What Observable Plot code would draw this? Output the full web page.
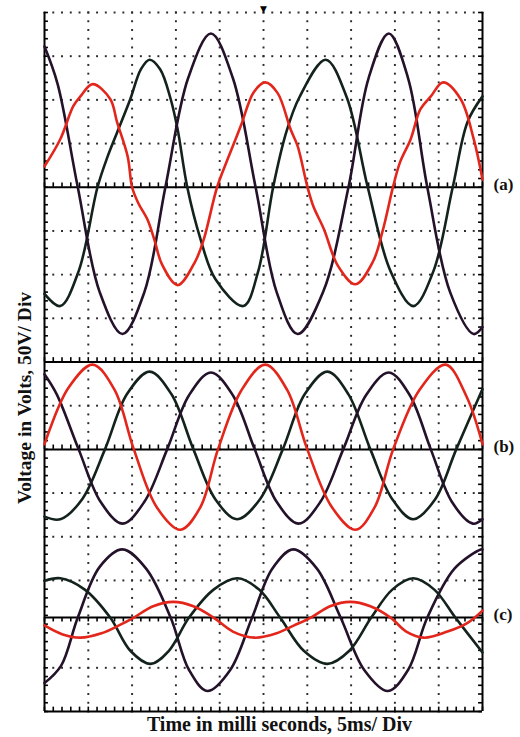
<!DOCTYPE html>
<html>
<head>
<meta charset="utf-8">
<script src="https://cdn.jsdelivr.net/npm/d3@7"></script>
<script src="https://cdn.jsdelivr.net/npm/@observablehq/plot@0.6"></script>
<style>
  html, body { margin: 0; padding: 0; background: #fff; }
  #chart svg { display: block; }
</style>
</head>
<body>
<div id="chart"></div>
<script>
// ---- Data: [time in ms, voltage in V] ----
// Panel (a)
const redA = [[0,24],[1.8,55],[3.3,93],[4.1,104],[5.5,118],[7.5,101],[8.3,74],[9.5,35],[10.0,0],[10.7,-18],[11.8,-38],[12.6,-62],[13.4,-88],[15.2,-112],[17.2,-85],[18.2,-59],[19.7,0],[20.9,32],[22.4,70],[23.9,109],[25.2,120],[26.6,108],[28.1,66],[28.9,47],[30.0,1],[30.7,-22],[31.9,-48],[33.5,-90],[35.5,-111],[37.5,-85],[38.6,-50],[39.8,1],[40.6,29],[41.8,55],[42.9,89],[44.1,104],[45.5,120],[47.5,101],[49.0,55],[50,9]];
const blkA1 = [[0,-122],[1.8,-136],[3.9,-96],[6.05,0],[7.2,35],[8.3,63],[9.8,101],[11.0,135],[12.0,146],[13.2,135],[14.4,101],[15.2,66],[16.3,0],[17.8,-59],[19.5,-105],[22.7,-136],[24.4,-96],[26.1,0],[27.6,63],[29.1,103],[32.1,146],[34.5,103],[36.9,0],[39.5,-96],[42.1,-136],[44.4,-96],[46.6,0],[48.3,75],[50,104]];
const blkA2 = [[0,161],[1.5,118],[3.8,0],[6.3,-120],[8.9,-168],[11.4,-120],[13.8,0],[16.4,125],[19.0,176],[21.5,125],[24.1,0],[26.5,-120],[28.9,-168],[31.8,-120],[34.7,0],[37.0,125],[39.3,176],[41.5,125],[43.7,0],[46.3,-120],[49.0,-168],[50,-160]];
// Panel (b)
const redB = [[0,6],[2.7,70],[5.5,97],[8.0,68],[10.2,0],[12.8,-66],[15.5,-92],[17.8,-66],[19.8,0],[22.5,68],[25.2,97],[27.7,68],[30.0,0],[32.8,-66],[35.5,-92],[37.7,-66],[39.8,0],[42.8,68],[45.8,97],[48.2,60],[50,6]];
const blkB1 = [[0,-77],[1.8,-80],[4.3,-57],[6.9,0],[9.4,63],[12.0,89],[14.5,63],[17.0,0],[19.5,-57],[22.0,-80],[24.6,-57],[27.2,0],[29.7,63],[32.3,89],[34.7,63],[37.2,0],[39.7,-57],[42.1,-80],[44.6,-57],[47.0,0],[50,69]];
const blkB2 = [[0,86],[1.4,63],[3.9,0],[6.4,-60],[8.9,-85],[11.4,-60],[14.0,0],[16.5,62],[19.0,88],[21.5,62],[24.0,0],[26.5,-60],[29.0,-85],[31.5,-60],[34.1,0],[36.7,62],[39.3,88],[41.7,62],[44.1,0],[46.5,-60],[48.9,-85],[50,-80]];
// Panel (c)
const redC = [[0,-9],[2,-19],[4.1,-23],[6.5,-18],[8.5,-9],[10.2,0],[12.4,13],[14.7,18],[17,13],[19.3,0],[21.5,-16],[24,-23],[26.5,-18],[28.5,-9],[30.4,0],[32.6,13],[34.9,18],[37.2,13],[39.5,0],[41.3,-16],[43.3,-23],[46,-16],[48.3,-6],[50,8]];
const blkC1 = [[0,-75],[1.9,-55],[3.8,0],[6.3,58],[8.9,78],[11.6,56],[14.4,0],[16.5,-60],[18.6,-84],[21.2,-60],[23.7,0],[26.0,56],[28.4,78],[31.1,56],[33.8,0],[36.5,-60],[39.2,-84],[41.5,-60],[43.7,0],[46.8,56],[49.8,78],[50,78]];
const blkC2 = [[0,42],[1.8,45],[4.6,32],[7.5,0],[9.8,-38],[12.1,-53],[14.2,-38],[16.5,0],[19.3,32],[22.0,45],[24.5,32],[26.9,0],[29.6,-38],[32.3,-53],[34.8,-38],[37.3,0],[39.7,32],[42.1,45],[44.5,32],[46.9,0],[50,-40]];

// Panel labels and their zero-line levels on the 16-division (50 V/div) screen
const panelLabels = ["(a)", "(b)", "(c)"];
const panelZeros = [600, 300, 107.5];
const separatorLevel = 400;

// ---- Layout / style ----
const serif = "'Liberation Serif', 'Times New Roman', serif";
const RED = "#e3261b", GREEN_BLK = "#13231c", PURPLE_BLK = "#24112a";
const screenTop = 800, timeEnd = 50;

const rows = (pts, off) => pts.map(([t, v]) => ({t, y: v + off}));

// graticule dots
const vDots = [];
for (let gx = 5; gx < timeEnd; gx += 5) for (const gy of d3.range(0, screenTop + 0.1, 10)) vDots.push({t: gx, y: gy});
const hDots = [];
for (let k = 1; k <= 16; k++) {
  if ([2, 6, 8, 12].includes(k)) continue;
  for (const gt of d3.range(0, timeEnd + 0.01, 1)) hDots.push({t: gt, y: k * 50});
}
const yTicks = d3.range(0, screenTop + 0.1, 10);
const tTicks = d3.range(0, timeEnd + 0.01, 1);

const traceLine = (pts, off, color) =>
  Plot.line(rows(pts, off), {x: "t", y: "y", stroke: color, strokeWidth: 2.6, curve: "catmull-rom", strokeLinejoin: "round"});

const marks = [
  // graticule
  Plot.dot(vDots, {x: "t", y: "y", symbol: "square", r: 1.1, fill: "#2a2a2a", stroke: null}),
  Plot.dot(hDots, {x: "t", y: "y", symbol: "square", r: 1.1, fill: "#2a2a2a", stroke: null}),
  // frame
  Plot.ruleX([0, timeEnd], {y1: 0, y2: screenTop, stroke: "#000", strokeWidth: 2}),
  Plot.ruleY([0], {x1: 0, x2: timeEnd, stroke: "#000", strokeWidth: 2}),
  Plot.ruleY(yTicks, {y: d => d, x1: 0, x2: 0.45, stroke: "#000", strokeWidth: 1.6}),
  Plot.ruleY(yTicks, {y: d => d, x1: timeEnd - 0.45, x2: timeEnd, stroke: "#000", strokeWidth: 1.6}),
  Plot.ruleX(tTicks, {x: d => d, y1: 0, y2: 5, stroke: "#000", strokeWidth: 1.6}),
  // zero lines + separator
  Plot.ruleY([...panelZeros, separatorLevel], {x1: 0, x2: timeEnd, stroke: "#000", strokeWidth: 2}),
  Plot.ruleX(tTicks, {x: d => d, y1: panelZeros[0], y2: panelZeros[0] + 5, stroke: "#000", strokeWidth: 1.6}),
  Plot.ruleX(tTicks, {x: d => d, y1: separatorLevel, y2: separatorLevel + 5, stroke: "#000", strokeWidth: 1.6}),
  Plot.ruleX(tTicks, {x: d => d, y1: panelZeros[1], y2: panelZeros[1] + 5, stroke: "#000", strokeWidth: 1.6}),
  Plot.ruleX(tTicks, {x: d => d, y1: panelZeros[2] - 5, y2: panelZeros[2], stroke: "#000", strokeWidth: 1.6}),
  // traces
  traceLine(blkA1, panelZeros[0], GREEN_BLK),
  traceLine(blkA2, panelZeros[0], PURPLE_BLK),
  traceLine(redA, panelZeros[0], RED),
  traceLine(blkB1, panelZeros[1], GREEN_BLK),
  traceLine(blkB2, panelZeros[1], PURPLE_BLK),
  traceLine(redB, panelZeros[1], RED),
  traceLine(blkC1, panelZeros[2], PURPLE_BLK),
  traceLine(blkC2, panelZeros[2], GREEN_BLK),
  traceLine(redC, panelZeros[2], RED),
  // trigger marker
  Plot.text([timeEnd / 2], {x: d => d, y: screenTop, text: () => "▼", dy: -3, fontSize: 9, fill: "#000", fontFamily: "DejaVu Sans"}),
  // panel labels
  Plot.text(panelLabels, {x: timeEnd, y: (d, i) => panelZeros[i], text: d => d, dx: 11, dy: -3, textAnchor: "start",
    fontFamily: serif, fontWeight: "bold", fontSize: 17, fill: "#111"}),
  // axis titles
  Plot.text(["Time in milli seconds, 5ms/ Div"], {frameAnchor: "bottom", text: d => d, dx: 16, dy: 13, textAnchor: "middle", lineAnchor: "middle",
    fontFamily: serif, fontWeight: "bold", fontSize: 20, fill: "#111"}),
  Plot.text(["Voltage in Volts, 50V/ Div"], {frameAnchor: "left", text: d => d, rotate: -90, dx: -20, dy: 36, textAnchor: "middle", lineAnchor: "middle",
    fontFamily: serif, fontWeight: "bold", fontSize: 19.5, fill: "#111"})
];

const chart = Plot.plot({
  width: 520,
  height: 737,
  marginLeft: 44,
  marginRight: 38,
  marginTop: 12,
  marginBottom: 26,
  x: {domain: [0, timeEnd], axis: null},
  y: {domain: [0, screenTop], axis: null},
  style: {background: "#fff"},
  marks
});
document.getElementById("chart").appendChild(chart);
</script>
</body>
</html>
